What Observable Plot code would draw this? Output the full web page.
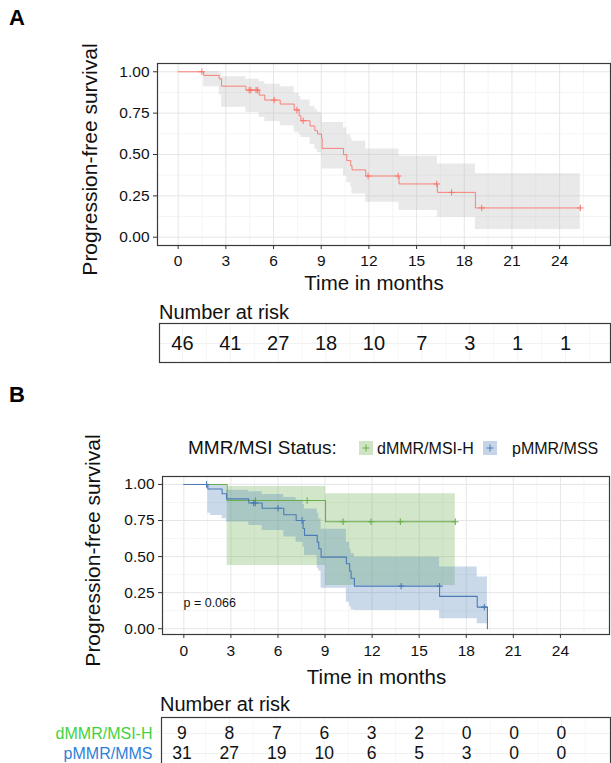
<!DOCTYPE html>
<html><head><meta charset="utf-8">
<script src="https://cdn.jsdelivr.net/npm/d3@7"></script>
<script src="https://cdn.jsdelivr.net/npm/@observablehq/plot@0.6"></script>
<style>
body{margin:0;background:#fff;}
#root{position:relative;width:611px;height:763px;overflow:hidden;background:#fff;}
</style></head><body><div id="root"></div>
<script>
// ---------- shared ticks ----------
const monthTicks = [0,3,6,9,12,15,18,21,24];
const minorMonthTicks = [1.5,4.5,7.5,10.5,13.5,16.5,19.5,22.5,25.5];
const survTicks = [0,0.25,0.5,0.75,1];
const survTickLabels = ["0.00","0.25","0.50","0.75","1.00"];
const minorSurvTicks = [0.125,0.375,0.625,0.875];

// ---------- Panel A : all patients ----------
const aTime = [0,1.6,2.58,2.73,4.26,5.1,5.45,6.42,7.3,7.61,7.72,8.3,8.6,8.77,9.02,9.06,10.4,10.61,10.86,10.94,11.8,13.9,16.31,18.7,25.3];
const aSurv = [1,0.978,0.957,0.913,0.889,0.859,0.829,0.805,0.769,0.734,0.704,0.672,0.644,0.624,0.600,0.537,0.499,0.463,0.431,0.407,0.370,0.322,0.271,0.177,0.177];
const aCensorTime = [1.49,4.47,4.57,4.9,5.0,6.04,7.47,7.86,11.95,13.84,16.27,17.2,19.1,25.3];
const aCensorSurv = [1,0.889,0.889,0.889,0.889,0.829,0.769,0.704,0.370,0.370,0.322,0.271,0.177,0.177];
const aBandTime = [1.6,2.58,2.73,4.26,5.1,5.45,6.42,7.3,7.61,7.72,8.3,8.6,8.77,9.02,9.06,10.4,10.61,10.86,10.94,11.8,13.9,16.31,18.7,25.3];
const aBandUpper = [1.0,0.99,0.97,0.955,0.94,0.925,0.91,0.87,0.85,0.83,0.79,0.77,0.755,0.745,0.694,0.66,0.62,0.60,0.58,0.533,0.49,0.443,0.383,0.383];
const aBandLower = [0.91,0.86,0.785,0.754,0.725,0.70,0.674,0.634,0.62,0.603,0.56,0.53,0.51,0.49,0.413,0.37,0.33,0.30,0.262,0.211,0.161,0.121,0.046,0.046];
const aRisk = [46,41,27,18,10,7,3,1,1];

// ---------- Panel B : by MMR/MSI status ----------
const groups = ["dMMR/MSI-H","pMMR/MSS"];
const riskRowLabels = ["dMMR/MSI-H","pMMR/MMS"];
const dTime = [0,2.76,9.03,17.3];
const dSurv = [1,0.889,0.741,0.741];
const dCensorTime = [4.57,7.86,10.15,11.93,13.8,17.3];
const dCensorSurv = [0.889,0.889,0.741,0.741,0.741,0.741];
const dBandTime = [2.76,9.03,17.3];
const dBandUpper = [0.986,0.935,0.935];
const dBandLower = [0.439,0.30,0.30];
const dRisk = [9,8,7,6,3,2,0,0,0];

const pTime = [0,1.53,2.44,2.72,4.14,4.99,6.37,7.16,7.6,7.69,8.5,8.6,8.75,10.36,10.57,10.66,10.87,16.3,18.7,19.35];
const pSurv = [1,0.968,0.935,0.90,0.871,0.835,0.79,0.75,0.695,0.647,0.60,0.554,0.496,0.45,0.40,0.35,0.295,0.224,0.15,0.0];
const pCensorTime = [1.45,4.45,4.55,6.0,7.54,13.85,16.3,19.15];
const pCensorSurv = [1,0.871,0.871,0.835,0.75,0.295,0.295,0.15];
const pBandTime = [1.53,1.70,2.44,2.72,4.14,4.99,6.37,7.16,7.6,7.69,8.5,8.6,8.75,10.36,10.57,10.66,10.87,16.3,18.7,19.35];
const pBandUpper = [1.0,1.0,0.995,0.96,0.95,0.93,0.91,0.89,0.86,0.83,0.80,0.76,0.69,0.60,0.55,0.52,0.496,0.427,0.358,0.358];
const pBandLower = [0.80,0.785,0.762,0.739,0.715,0.68,0.635,0.60,0.565,0.508,0.42,0.40,0.281,0.184,0.15,0.13,0.127,0.069,0.035,0.035];
const pRisk = [31,27,19,10,6,5,3,0,0];
const pValueText = "p = 0.066";

// ---------- styling ----------
const FONT = '"Liberation Sans", Arial, Helvetica, sans-serif';
const colA = "#F8766D";
const colD = "#6aae4c", fillD = "#6aae4c";
const colP = "#4a7bb4", fillP = "#4f80b5";
const labD = "#3fd33f", labP = "#2f7fd8";

const root = document.getElementById("root");
function htmlText(text, x, yc, size, opts = {}) {
  const d = document.createElement("div");
  d.textContent = text;
  d.style.cssText = `position:absolute;white-space:nowrap;font-family:${FONT};font-size:${size}px;line-height:${size}px;color:${opts.color || "#111"};font-weight:${opts.weight || "normal"};top:${yc - 0.49 * size}px;left:${x}px;`;
  root.appendChild(d);
  return d;
}
function mount(chart, top) {
  chart.style.position = "absolute";
  chart.style.left = "0px";
  chart.style.top = top + "px";
  root.appendChild(chart);
}
const plusSymbol = {
  draw(ctx, size) {
    const r = Math.sqrt(size / Math.PI);
    ctx.moveTo(-r, 0); ctx.lineTo(r, 0);
    ctx.moveTo(0, -r); ctx.lineTo(0, r);
  }
};
const rows = (t, s) => t.map((v, i) => ({t: v, s: s[i]}));
const bandRows = (t, lo, hi) => t.map((v, i) => ({t: v, lo: lo[i], hi: hi[i]}));

function gridMarks() {
  return [
    Plot.ruleX(minorMonthTicks, {stroke: "#f2f2f2", strokeWidth: 0.8}),
    Plot.ruleY(minorSurvTicks, {stroke: "#f2f2f2", strokeWidth: 0.8}),
    Plot.ruleX(monthTicks, {stroke: "#e6e6e6", strokeWidth: 1}),
    Plot.ruleY(survTicks, {stroke: "#e6e6e6", strokeWidth: 1})
  ];
}
function axisMarks(pad) {
  return [
    Plot.frame({stroke: "#3a3a3a", strokeWidth: 1.2}),
    Plot.axisX(monthTicks, {tickSize: 4, tickPadding: pad, fontSize: 15.5, stroke: "#333", label: null}),
    Plot.axisY(survTicks, {tickSize: 4, tickPadding: 4, fontSize: 15.5, stroke: "#333", label: null,
      tickFormat: (d) => survTickLabels[survTicks.indexOf(d)]})
  ];
}
const baseStyle = {fontFamily: FONT, fontSize: "15.5px", color: "#111", background: "transparent", overflow: "visible"};

// ---------- Panel A plot ----------
mount(Plot.plot({
  width: 611, height: 300, marginTop: 63, marginBottom: 55, marginLeft: 157, marginRight: 1,
  x: {domain: [-1.3, 27.2]}, y: {domain: [-0.05, 1.05]},
  style: baseStyle,
  marks: [
    ...gridMarks(),
    Plot.areaY(bandRows(aBandTime, aBandLower, aBandUpper), {x: "t", y1: "lo", y2: "hi", curve: "step-after", fill: "#bdbdbd", fillOpacity: 0.33}),
    Plot.line(rows(aTime, aSurv), {x: "t", y: "s", curve: "step-after", stroke: colA, strokeWidth: 1, strokeOpacity: 0.9}),
    Plot.dot(rows(aCensorTime, aCensorSurv), {x: "t", y: "s", symbol: plusSymbol, r: 3.2, stroke: colA, strokeWidth: 1, fill: "none"}),
    ...axisMarks(5),
    Plot.text(["Time in months"], {frameAnchor: "bottom", dx: -10, dy: 38, fontSize: 20.5, lineAnchor: "middle", fill: "#111"}),
    Plot.text(["Progression-free survival"], {frameAnchor: "left", dx: -67, dy: 5, rotate: -90, fontSize: 21, lineAnchor: "middle", textAnchor: "middle", fill: "#111"})
  ]
}), 0);

// ---------- Panel A risk table ----------
htmlText("Number at risk", 159, 312, 20);
mount(Plot.plot({
  width: 611, height: 70, marginTop: 23, marginBottom: 8, marginLeft: 159, marginRight: 1,
  x: {domain: [-1.44, 26.82], axis: null},
  y: {type: "point", domain: ["All"], axis: null},
  style: baseStyle,
  marks: [
    Plot.ruleX(monthTicks, {stroke: "#f3f3f3"}),
    Plot.ruleX(minorMonthTicks, {stroke: "#f7f7f7"}),
    Plot.ruleY(["All"], {y: (d) => d, stroke: "#f1f1f1"}),
    Plot.text(aRisk, {x: (d, i) => monthTicks[i], y: () => "All", text: (d) => String(d), fontSize: 20, fill: "#111"}),
    Plot.frame({stroke: "#3a3a3a", strokeWidth: 1.2})
  ]
}), 300);

// ---------- Panel B legend ----------
htmlText("MMR/MSI Status:", 188, 447.5, 19);
function swatch(x, fill, stroke) {
  const s = document.createElementNS("http://www.w3.org/2000/svg", "svg");
  s.setAttribute("width", 14); s.setAttribute("height", 14);
  s.style.cssText = `position:absolute;left:${x}px;top:441px;`;
  s.innerHTML = `<rect x="0" y="0" width="14" height="14" fill="${fill}" fill-opacity="0.33"/><path d="M3.5,7H10.5M7,3.5V10.5" stroke="${stroke}" stroke-width="1"/>`;
  root.appendChild(s);
}
swatch(359, fillD, colD);
htmlText(groups[0], 377, 448.5, 16);
swatch(483, fillP, colP);
htmlText(groups[1], 512, 448.5, 16);

// ---------- Panel B plot ----------
mount(Plot.plot({
  width: 611, height: 270, marginTop: 56, marginBottom: 56, marginLeft: 162, marginRight: 2,
  x: {domain: [-1.36, 27.13]}, y: {domain: [-0.04, 1.055]},
  style: baseStyle,
  marks: [
    ...gridMarks(),
    Plot.areaY(bandRows(dBandTime, dBandLower, dBandUpper), {x: "t", y1: "lo", y2: "hi", curve: "step-after", fill: fillD, fillOpacity: 0.3}),
    Plot.areaY(bandRows(pBandTime, pBandLower, pBandUpper), {x: "t", y1: "lo", y2: "hi", curve: "step-after", fill: fillP, fillOpacity: 0.3}),
    Plot.line(rows(dTime, dSurv), {x: "t", y: "s", curve: "step-after", stroke: colD, strokeWidth: 1.1}),
    Plot.dot(rows(dCensorTime, dCensorSurv), {x: "t", y: "s", symbol: plusSymbol, r: 3.2, stroke: colD, strokeWidth: 1.1, fill: "none"}),
    Plot.line(rows(pTime, pSurv), {x: "t", y: "s", curve: "step-after", stroke: colP, strokeWidth: 1.1}),
    Plot.dot(rows(pCensorTime, pCensorSurv), {x: "t", y: "s", symbol: plusSymbol, r: 3.2, stroke: colP, strokeWidth: 1.1, fill: "none"}),
    Plot.text([pValueText], {frameAnchor: "bottom-left", dx: 21, dy: -32, fontSize: 12.5, textAnchor: "start", lineAnchor: "middle", fill: "#111"}),
    ...axisMarks(6),
    Plot.text(["Time in months"], {frameAnchor: "bottom", dx: -9.5, dy: 43, fontSize: 20.5, lineAnchor: "middle", fill: "#111"}),
    Plot.text(["Progression-free survival"], {frameAnchor: "left", dx: -69, dy: -5, rotate: -90, fontSize: 21, lineAnchor: "middle", textAnchor: "middle", fill: "#111"})
  ]
}), 420);

// ---------- Panel B risk table ----------
htmlText("Number at risk", 160, 704, 20);
mount(Plot.plot({
  width: 611, height: 90, marginTop: 27, marginBottom: 0, marginLeft: 161, marginRight: 1,
  x: {domain: [-1.29, 27.1], axis: null},
  y: {type: "point", domain: groups, range: [43, 63], padding: 0, axis: null},
  style: baseStyle,
  marks: [
    Plot.ruleX(monthTicks, {stroke: "#f3f3f3"}),
    Plot.ruleX(minorMonthTicks, {stroke: "#f7f7f7"}),
    Plot.ruleY(groups, {y: (d) => d, stroke: "#f1f1f1"}),
    Plot.text(dRisk, {x: (d, i) => monthTicks[i], y: () => groups[0], text: (d) => String(d), fontSize: 17.5, fill: "#111"}),
    Plot.text(pRisk, {x: (d, i) => monthTicks[i], y: () => groups[1], text: (d) => String(d), fontSize: 17.5, fill: "#111"}),
    Plot.text([riskRowLabels[0]], {y: () => groups[0], frameAnchor: "left", dx: -9, textAnchor: "end", fontSize: 16, fill: labD}),
    Plot.text([riskRowLabels[1]], {y: () => groups[1], frameAnchor: "left", dx: -9, textAnchor: "end", fontSize: 16, fill: labP}),
    Plot.frame({stroke: "#3a3a3a", strokeWidth: 1.2})
  ]
}), 690);

// ---------- panel letters ----------
htmlText("A", 9, 18, 22, {weight: "bold", color: "#000"});
htmlText("B", 9, 395, 22, {weight: "bold", color: "#000"});
</script></body></html>
